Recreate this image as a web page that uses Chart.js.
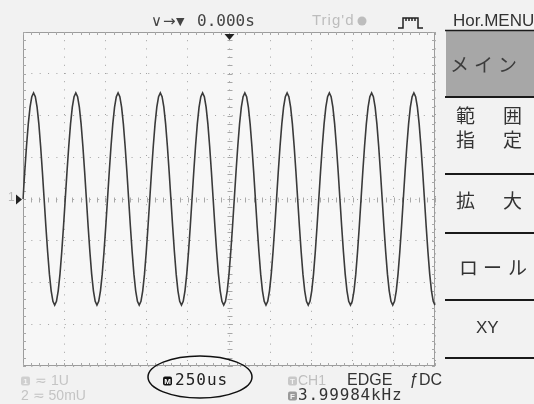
<!DOCTYPE html>
<html>
<head>
<meta charset="utf-8">
<script src="https://cdn.jsdelivr.net/npm/chart.js@4.4.1/dist/chart.umd.min.js"></script>
<style>
  html, body { margin: 0; padding: 0; background: #f2f2f2; }
  canvas { display: block; }
</style>
</head>
<body>
<canvas id="scope" width="534" height="404"></canvas>
<script>
// CH1 trace in divisions, 24 samples per period, 10 div across the screen
const trace = [
  0, 0.66, 1.27, 1.8, 2.2, 2.45, 2.54, 2.45, 2.2, 1.8, 1.27, 0.66, 0, -0.66, -1.27, -1.8, -2.2, -2.45, -2.54, -2.45, -2.2, -1.8, -1.27, -0.66,
  0, 0.66, 1.27, 1.8, 2.2, 2.45, 2.54, 2.45, 2.2, 1.8, 1.27, 0.66, 0, -0.66, -1.27, -1.8, -2.2, -2.45, -2.54, -2.45, -2.2, -1.8, -1.27, -0.66,
  0, 0.66, 1.27, 1.8, 2.2, 2.45, 2.54, 2.45, 2.2, 1.8, 1.27, 0.66, 0, -0.66, -1.27, -1.8, -2.2, -2.45, -2.54, -2.45, -2.2, -1.8, -1.27, -0.66,
  0, 0.66, 1.27, 1.8, 2.2, 2.45, 2.54, 2.45, 2.2, 1.8, 1.27, 0.66, 0, -0.66, -1.27, -1.8, -2.2, -2.45, -2.54, -2.45, -2.2, -1.8, -1.27, -0.66,
  0, 0.66, 1.27, 1.8, 2.2, 2.45, 2.54, 2.45, 2.2, 1.8, 1.27, 0.66, 0, -0.66, -1.27, -1.8, -2.2, -2.45, -2.54, -2.45, -2.2, -1.8, -1.27, -0.66,
  0, 0.66, 1.27, 1.8, 2.2, 2.45, 2.54, 2.45, 2.2, 1.8, 1.27, 0.66, 0, -0.66, -1.27, -1.8, -2.2, -2.45, -2.54, -2.45, -2.2, -1.8, -1.27, -0.66,
  0, 0.66, 1.27, 1.8, 2.2, 2.45, 2.54, 2.45, 2.2, 1.8, 1.27, 0.66, 0, -0.66, -1.27, -1.8, -2.2, -2.45, -2.54, -2.45, -2.2, -1.8, -1.27, -0.66,
  0, 0.66, 1.27, 1.8, 2.2, 2.45, 2.54, 2.45, 2.2, 1.8, 1.27, 0.66, 0, -0.66, -1.27, -1.8, -2.2, -2.45, -2.54, -2.45, -2.2, -1.8, -1.27, -0.66,
  0, 0.66, 1.27, 1.8, 2.2, 2.45, 2.54, 2.45, 2.2, 1.8, 1.27, 0.66, 0, -0.66, -1.27, -1.8, -2.2, -2.45, -2.54, -2.45, -2.2, -1.8, -1.27, -0.66,
  0, 0.66, 1.27, 1.8, 2.2, 2.45, 2.54, 2.45, 2.2, 1.8, 1.27, 0.66, 0, -0.66, -1.27, -1.8, -2.2, -2.45, -2.54
];
const sampleLabels = trace.map((v, i) => i);

const menuTitle = "Hor.MENU";
const menuItems = ["メイン", "範囲指定", "拡大", "ロール", "XY"];
const timeBase = "250us";
const trigInfo = ["CH1", "EDGE", "DC"];
const freqReadout = "3.99984kHz";
const chScales = ["≂ 1U", "2 ≂ 50mU"];

const scopeDecor = {
  id: "scopeDecor",
  beforeDraw(chart) {
    const { ctx, chartArea: a } = chart;
    ctx.save();
    ctx.fillStyle = "#f2f2f2";
    ctx.fillRect(0, 0, chart.width, chart.height);
    ctx.fillStyle = "#f7f7f7";
    ctx.fillRect(a.left, a.top, a.right - a.left, a.bottom - a.top);
    ctx.restore();
  },
  beforeDatasetsDraw(chart) {
    const { ctx, chartArea: a, scales } = chart;
    const x = scales.x, y = scales.y;
    ctx.save();
    ctx.strokeStyle = "#9c9c9c";
    ctx.lineWidth = 1;
    ctx.strokeRect(a.left + 0.5, a.top + 0.5, a.right - a.left - 1, a.bottom - a.top - 1);
    const x0 = Math.round(x.getPixelForValue(0)) + 0.5;
    const y0 = Math.round(y.getPixelForValue(0)) + 0.5;
    ctx.strokeStyle = "#a8a8a8";
    ctx.beginPath();
    for (let i = -25; i <= 25; i++) {
      const px = Math.round(x.getPixelForValue(i / 5)) + 0.5;
      ctx.moveTo(px, y0 - 2); ctx.lineTo(px, y0 + 3);
      ctx.moveTo(px, a.top); ctx.lineTo(px, a.top + 3);
      ctx.moveTo(px, a.bottom); ctx.lineTo(px, a.bottom - 3);
    }
    for (let i = -20; i <= 20; i++) {
      const py = Math.round(y.getPixelForValue(i / 5)) + 0.5;
      ctx.moveTo(x0 - 2, py); ctx.lineTo(x0 + 3, py);
      ctx.moveTo(a.left, py); ctx.lineTo(a.left + 3, py);
      ctx.moveTo(a.right, py); ctx.lineTo(a.right - 3, py);
    }
    ctx.stroke();
    // trigger position marker
    ctx.fillStyle = "#222";
    ctx.beginPath();
    ctx.moveTo(x0 - 5, a.top + 2); ctx.lineTo(x0 + 5, a.top + 2); ctx.lineTo(x0, a.top + 8);
    ctx.closePath(); ctx.fill();
    // ground marker for CH1
    ctx.beginPath();
    ctx.moveTo(a.left - 7, y0 - 5); ctx.lineTo(a.left - 1, y0); ctx.lineTo(a.left - 7, y0 + 5);
    ctx.closePath(); ctx.fill();
    ctx.restore();
  },
  afterDraw(chart) {
    const { ctx } = chart;
    ctx.save();
    ctx.textBaseline = "middle";
    const mono = '16px "DejaVu Sans Mono"';
    const sans = '"Liberation Sans", Arial, sans-serif';

    // CH1 label at the left
    ctx.fillStyle = "#b8b8b8";
    ctx.font = "12px " + sans;
    ctx.fillText("1", 8, 198);

    // top status line
    ctx.fillStyle = "#444";
    ctx.font = '15px "DejaVu Sans"';
    ctx.fillText("∨", 151, 22);
    ctx.fillText("→", 163, 22);
    ctx.font = '11px "DejaVu Sans"';
    ctx.fillText("▼", 176, 22);
    ctx.font = mono;
    ctx.fillText("0.000s", 197, 22);
    ctx.fillStyle = "#bdbdbd";
    ctx.font = "15px " + sans;
    ctx.letterSpacing = "1px";
    ctx.fillText("Trig'd", 312, 21);
    ctx.letterSpacing = "0px";
    ctx.beginPath(); ctx.arc(362, 21, 4.5, 0, Math.PI * 2); ctx.fill();
    ctx.strokeStyle = "#222"; ctx.lineWidth = 1.5;
    ctx.beginPath();
    ctx.moveTo(398, 28); ctx.lineTo(403, 28); ctx.lineTo(403, 18); ctx.lineTo(418, 18);
    ctx.lineTo(418, 28); ctx.lineTo(423, 28);
    for (let k = 406; k <= 415; k += 3) { ctx.moveTo(k, 18); ctx.lineTo(k, 21); }
    ctx.stroke();

    // right soft-key menu
    ctx.fillStyle = "#333";
    ctx.font = "17px " + sans;
    ctx.fillText(menuTitle, 453, 21);
    ctx.fillStyle = "#a7a7a7";
    ctx.fillRect(446, 31, 88, 66);
    ctx.strokeStyle = "#1a1a1a";
    ctx.lineWidth = 1.5;
    ctx.beginPath(); ctx.moveTo(445, 30.5); ctx.lineTo(534, 30.5); ctx.stroke();
    ctx.lineWidth = 2;
    ctx.beginPath();
    [97, 174, 233, 300, 358].forEach(yy => { ctx.moveTo(445, yy); ctx.lineTo(534, yy); });
    ctx.stroke();
    const jp = '"Noto Sans CJK JP", sans-serif';
    ctx.fillStyle = "#3c3c3c";
    ctx.font = "19px " + jp;
    ctx.fillText("メ", 450, 65); ctx.fillText("イ", 474, 65); ctx.fillText("ン", 498, 65);
    ctx.fillStyle = "#333";
    ctx.font = "19px " + jp;
    ctx.fillText("範", 456, 116); ctx.fillText("囲", 503, 116);
    ctx.fillText("指", 456, 140); ctx.fillText("定", 503, 140);
    ctx.fillText("拡", 456, 201); ctx.fillText("大", 503, 201);
    ctx.fillText("ロ", 459, 268); ctx.fillText("ー", 483, 268); ctx.fillText("ル", 508, 268);
    ctx.font = "17px " + sans;
    ctx.fillText("XY", 476, 328);

    // bottom status lines
    const box = (bx, by, fill, ch, txt) => {
      ctx.fillStyle = fill;
      ctx.beginPath(); ctx.roundRect(bx, by - 4.5, 9, 9, 2); ctx.fill();
      ctx.fillStyle = txt;
      ctx.font = "bold 8px " + sans;
      ctx.textAlign = "center";
      ctx.fillText(ch, bx + 4.5, by + 0.5);
      ctx.textAlign = "left";
    };
    box(21, 381, "#cfcfcf", "1", "#f4f4f4");
    ctx.fillStyle = "#c4c4c4";
    ctx.font = "14px " + sans;
    ctx.fillText(chScales[0], 35, 381);
    ctx.fillText(chScales[1], 21, 396);

    box(163, 381, "#111", "M", "#fff");
    ctx.fillStyle = "#222";
    ctx.font = mono;
    ctx.letterSpacing = "1px";
    ctx.fillText(timeBase, 175, 381);
    ctx.letterSpacing = "0px";
    ctx.strokeStyle = "#111";
    ctx.lineWidth = 1.5;
    ctx.beginPath(); ctx.ellipse(200, 377, 52, 21, 0, 0, Math.PI * 2); ctx.stroke();

    box(288, 381, "#c8c8c8", "T", "#f4f4f4");
    ctx.fillStyle = "#bfbfbf";
    ctx.font = "14px " + sans;
    ctx.fillText(trigInfo[0], 298, 381);
    ctx.fillStyle = "#333";
    ctx.font = "16px " + sans;
    ctx.fillText(trigInfo[1], 347, 381);
    ctx.font = "italic 16px " + sans;
    ctx.fillText("ƒ", 409, 381);
    ctx.font = "16px " + sans;
    ctx.fillText(trigInfo[2], 419, 381);

    box(288, 396, "#9a9a9a", "F", "#f4f4f4");
    ctx.fillStyle = "#333";
    ctx.font = mono;
    ctx.letterSpacing = "0.8px";
    ctx.fillText(freqReadout, 298, 396);
    ctx.restore();
  }
};

const gridStyle = { color: "#a2a2a2", lineWidth: 1, drawTicks: false };

new Chart(document.getElementById("scope"), {
  type: "line",
  data: {
    labels: sampleLabels,
    datasets: [{
      data: trace,
      xAxisID: "xs",
      yAxisID: "y",
      borderColor: "#3a3a3a",
      borderWidth: 1.6,
      pointRadius: 0,
      tension: 0,
      fill: false
    }]
  },
  options: {
    responsive: false,
    animation: false,
    layout: { padding: { left: 23, right: 99, top: 32, bottom: 38 } },
    plugins: { legend: { display: false }, tooltip: { enabled: false } },
    scales: {
      xs: { type: "category", display: false, offset: false },
      x: {
        type: "linear", min: -5, max: 5,
        ticks: { display: false, stepSize: 1 },
        grid: gridStyle,
        border: { display: false, dash: [1, 7.2] }
      },
      y: {
        type: "linear", min: -4, max: 4,
        ticks: { display: false, stepSize: 1 },
        grid: gridStyle,
        border: { display: false, dash: [1, 7.35] }
      }
    }
  },
  plugins: [scopeDecor]
});
</script>
</body>
</html>
